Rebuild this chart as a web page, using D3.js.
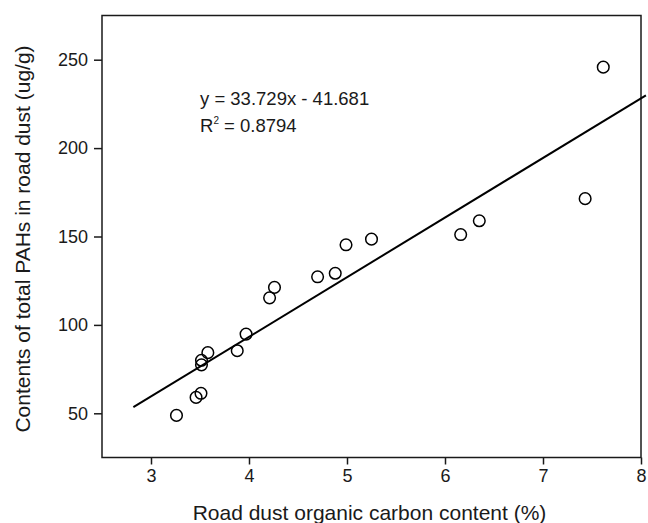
<!DOCTYPE html>
<html>
<head>
<meta charset="utf-8">
<script src="https://cdn.jsdelivr.net/npm/d3@7"></script>
<style>
  html, body { margin: 0; padding: 0; background: #fff; }
  svg { display: block; }
  text { font-family: "Liberation Sans", Arial, Helvetica, sans-serif; fill: #1a1a1a; }
</style>
</head>
<body>
<svg id="chart" width="648" height="523"></svg>
<script>
// Data
const organicCarbon = [3.26, 3.46, 3.51, 3.515, 3.515, 3.58, 3.88, 3.97, 4.21, 4.26, 4.70, 4.88, 4.99, 5.25, 6.16, 6.35, 7.43, 7.615];
const totalPAHs     = [48.8, 59.0, 61.3, 77.4, 80.0, 84.3, 85.4, 94.8, 115.3, 121.2, 127.2, 129.2, 145.3, 148.5, 151.1, 158.9, 171.4, 245.8];
const xTicks = [3, 4, 5, 6, 7, 8];
const yTicks = [50, 100, 150, 200, 250];
const slope = 33.729, intercept = -41.681;
const fitRange = [2.82, 8.05];
const equationLines = ["y = 33.729x - 41.681", "R2 = 0.8794"];
const xTitle = "Road dust organic carbon content (%)";
const yTitle = "Contents of total PAHs in road dust (ug/g)";

const W = 648, H = 523;
const m = { left: 102, right: 7, top: 15.5, bottom: 65.5 };
const svg = d3.select("#chart");

const x = d3.scaleLinear().domain([2.5, 8]).range([m.left, W - m.right]);
const y = d3.scaleLinear().domain([25, 275]).range([H - m.bottom, m.top]);

// Axes
const xAxis = svg.append("g")
  .attr("transform", `translate(0,${H - m.bottom})`)
  .call(d3.axisBottom(x).tickValues(xTicks).tickSize(7).tickPadding(5).tickFormat(d3.format("d")));
const yAxis = svg.append("g")
  .attr("transform", `translate(${m.left},0)`)
  .call(d3.axisLeft(y).tickValues(yTicks).tickSize(8).tickPadding(6).tickFormat(d3.format("d")));
[xAxis, yAxis].forEach(a => {
  a.select(".domain").remove();
  a.selectAll(".tick line").attr("stroke", "#1a1a1a").attr("stroke-width", 1.5);
  a.selectAll(".tick text").style("font-size", "18px").style("font-family", '"Liberation Sans", Arial, sans-serif').attr("fill", "#1a1a1a");
});

// Frame
svg.append("rect")
  .attr("x", x(2.5)).attr("y", y(275))
  .attr("width", x(8) - x(2.5)).attr("height", y(25) - y(275))
  .attr("fill", "none").attr("stroke", "#1a1a1a").attr("stroke-width", 1.5);

// Regression line
svg.append("line")
  .attr("x1", x(fitRange[0])).attr("y1", y(slope * fitRange[0] + intercept))
  .attr("x2", x(fitRange[1])).attr("y2", y(slope * fitRange[1] + intercept))
  .attr("stroke", "#000").attr("stroke-width", 2);

// Points
svg.append("g").selectAll("circle")
  .data(organicCarbon.map((v, i) => [v, totalPAHs[i]]))
  .join("circle")
  .attr("cx", d => x(d[0])).attr("cy", d => y(d[1]))
  .attr("r", 5.8)
  .attr("fill", "none").attr("stroke", "#000").attr("stroke-width", 1.5);

// Equation annotation
const eq = svg.append("g").style("font-size", "18.5px");
eq.append("text").attr("x", 200).attr("y", 104.5).text(equationLines[0]);
const r2 = eq.append("text").attr("x", 200).attr("y", 131.5);
r2.append("tspan").text("R");
r2.append("tspan").attr("dy", -8).style("font-size", "10px").text("2");
r2.append("tspan").attr("dy", 8).text(" = 0.8794");

// Axis titles
svg.append("text")
  .attr("x", (x(2.5) + x(8)) / 2 - 2).attr("y", 520)
  .attr("text-anchor", "middle").style("font-size", "21px").text(xTitle);
svg.append("text")
  .attr("transform", `translate(30,${239}) rotate(-90)`)
  .attr("text-anchor", "middle").style("font-size", "21px").text(yTitle);
</script>
</body>
</html>
